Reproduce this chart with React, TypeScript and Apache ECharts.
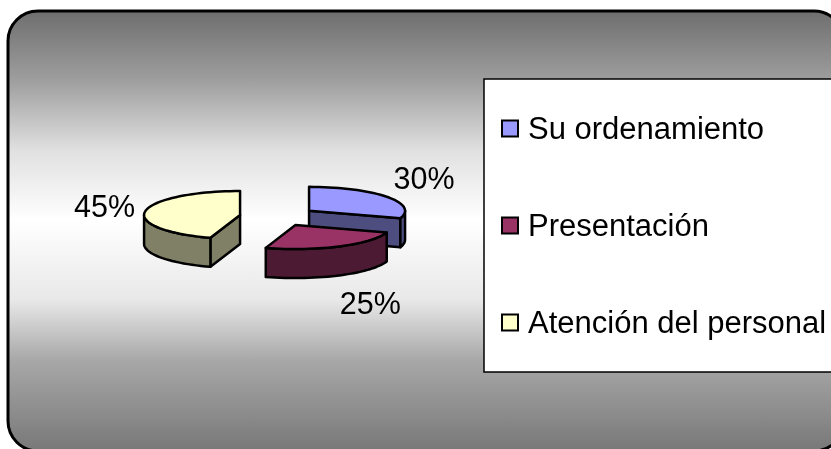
import React, { useEffect, useRef } from "react";
import * as echarts from "echarts";

const categories = ["Su ordenamiento", "Presentación", "Atención del personal"];
const shares = [30, 25, 45];
const percentLabels = ["30%", "25%", "45%"];

const topColors = ["#9999ff", "#993366", "#ffffcc"];
const sideColors = ["#4d4d80", "#4d1a33", "#808066"];
const FONT = '"Liberation Sans", Arial, sans-serif';

const CX = 278, CY = 216.5, RX = 96, RY = 24, DEPTH = 29, EXPLODE = 0.4;
const LABEL_KX = [1.48, 1.72, 1.43];
const LABEL_KY = 2.3;

function project(cx: number, cy: number, deg: number, kx = 1, ky = kx): [number, number] {
  const a = (deg * Math.PI) / 180;
  return [cx + RX * kx * Math.sin(a), cy - RY * ky * Math.cos(a)];
}
function arcPts(cx: number, cy: number, from: number, to: number, dy = 0) {
  const pts: number[][] = [];
  const n = Math.max(2, Math.ceil(Math.abs(to - from) / 3));
  for (let i = 0; i <= n; i++) {
    const [x, y] = project(cx, cy, from + ((to - from) * i) / n);
    pts.push([x, y + dy]);
  }
  return pts;
}

export default function App() {
  const ref = useRef<HTMLDivElement>(null);
  useEffect(() => {
    const chart = echarts.init(ref.current!, undefined, { renderer: "svg" });
    const total = shares.reduce((a, b) => a + b, 0);
    const ranges: number[][] = [];
    let acc = 0;
    shares.forEach((v) => {
      const s = (acc / total) * 360;
      acc += v;
      ranges.push([s, (acc / total) * 360]);
    });
    const stroke = { stroke: "#000", lineWidth: 2.5, lineJoin: "round" as const };

    const renderSlice = (i: number) => () => {
      const [from, to] = ranges[i];
      const mid = (from + to) / 2;
      const [cx, cy] = project(CX, CY, mid, EXPLODE);
      const children: any[] = [];
      const side = (points: number[][], fill: string) =>
        children.push({ type: "polygon", shape: { points }, style: { fill, ...stroke } });

      // visible cut faces, then the rim, then the top
      const cutFace = (d: number) => {
        const [x, y] = project(cx, cy, d);
        side([[cx, cy], [x, y], [x, y + DEPTH], [cx, cy + DEPTH]], sideColors[i]);
      };
      if (Math.sin((from * Math.PI) / 180) < -1e-6) cutFace(from);
      if (Math.sin((to * Math.PI) / 180) > 1e-6) cutFace(to);
      const lo = Math.max(from, 90);
      const hi = Math.min(to, 270);
      if (hi > lo) {
        side([...arcPts(cx, cy, lo, hi), ...arcPts(cx, cy, lo, hi, DEPTH).reverse()], sideColors[i]);
      }
      children.push({
        type: "polygon",
        shape: { points: [[cx, cy], ...arcPts(cx, cy, from, to)] },
        style: { fill: topColors[i], ...stroke },
      });
      const [lx, ly] = project(cx, cy, mid, LABEL_KX[i], LABEL_KY);
      children.push({
        type: "text",
        style: {
          text: percentLabels[i],
          x: lx,
          y: ly + (Math.cos((mid * Math.PI) / 180) < 0 ? DEPTH : 0),
          fill: "#000",
          font: `30.5px ${FONT}`,
          textAlign: "center",
          textVerticalAlign: "middle",
        },
      });
      return { type: "group", children };
    };

    chart.setOption({
      animation: false,
      graphic: {
        elements: [
          {
            type: "rect", z: -10,
            shape: { x: 8, y: 11, width: 836, height: 440, r: 30 },
            style: {
              stroke: "#000", lineWidth: 3,
              fill: new echarts.graphic.LinearGradient(0, 0, 0, 1, [
                { offset: 0, color: "#6e6e6e" },
                { offset: 0.157, color: "#9e9e9e" },
                { offset: 0.316, color: "#e0e0e0" },
                { offset: 0.475, color: "#ffffff" },
                { offset: 0.657, color: "#e8e8e8" },
                { offset: 0.793, color: "#a8a8a8" },
                { offset: 1, color: "#787878" },
              ]),
            },
          },
          { type: "rect", z: -5, shape: { x: 484, y: 79, width: 360, height: 293 }, style: { fill: "#fff", stroke: "#000", lineWidth: 1.5 } },
        ],
      },
      legend: {
        orient: "vertical", left: 496, top: 108, itemGap: 66,
        itemWidth: 16, itemHeight: 16,
        icon: "rect", selectedMode: false,
        textStyle: { fontFamily: FONT, fontSize: 31, color: "#000", padding: [0, 0, 0, 5] },
        itemStyle: { borderColor: "#000", borderWidth: 2 },
        data: categories,
      },
      series: categories.map((name, i) => ({
        type: "custom",
        name,
        coordinateSystem: "none",
        renderItem: renderSlice(i),
        itemStyle: { color: topColors[i] },
        data: [shares[i]],
      })),
    });
    return () => chart.dispose();
  }, []);
  return <div ref={ref} style={{ position: "fixed", left: 0, top: 0, width: 831, height: 449 }} />;
}
